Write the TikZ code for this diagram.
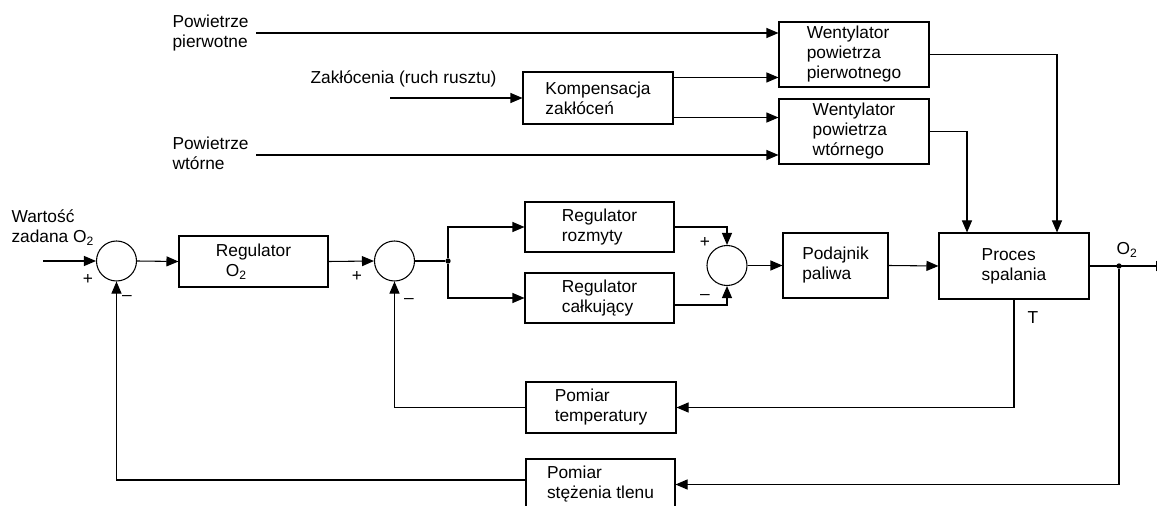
\documentclass[tikz,border=0pt]{standalone}
\usepackage{fontspec}
\setmainfont{Liberation Sans}
\usetikzlibrary{arrows.meta,calc}
\begin{document}
\begin{tikzpicture}[x=0.75pt,y=-0.75pt,
  font=\fontsize{13pt}{15pt}\selectfont,
  line width=0.8pt,
  >={Triangle[length=9pt,width=7.5pt]},
  blk/.style={draw,rectangle,align=left,inner sep=0pt},
  sumnode/.style={draw,circle,minimum size=30pt,inner sep=0pt},
  lbl/.style={inner sep=0pt,align=left},
  dot/.style={circle,fill,inner sep=0pt,minimum size=4pt}]
\fill[white] (0,0) rectangle (1157,506);
\clip (0,0) rectangle (1157,506);

% blocks
\node[blk,minimum width=112.5pt,minimum height=48.75pt] (wp) at (854,54.5)
  {Wentylator\\powietrza\\pierwotnego};
\node[blk,minimum width=112.5pt,minimum height=48.75pt] (ww) at (854,131.5)
  {Wentylator\\powietrza\\wtórnego};
\node[blk,minimum width=112.5pt,minimum height=39pt] (komp) at (598,98)
  {Kompensacja\\zakłóceń};
\node[blk,minimum width=111.75pt,minimum height=38.25pt] (regO) at (253.5,261.5)
  {Regulator\\\hspace*{7.5pt}O\textsubscript{2}};
\node[blk,minimum width=111.75pt,minimum height=37.5pt] (roz) at (599.5,227)
  {Regulator\\rozmyty};
\node[blk,minimum width=111.75pt,minimum height=37.5pt] (calk) at (599.5,298)
  {Regulator\\całkujący};
\node[blk,minimum width=78.75pt,minimum height=48.75pt] (pod) at (835.5,265.5)
  {Podajnik\\paliwa};
\node[blk,minimum width=112.5pt,minimum height=49.5pt] (proc) at (1014,266)
  {Proces\\spalania};
\node[blk,minimum width=112.5pt,minimum height=38.25pt] (ptemp) at (601,407.5)
  {Pomiar\\temperatury};
\node[blk,minimum width=111.75pt,minimum height=38.25pt] (ptlen) at (600.5,484.5)
  {Pomiar\\stężenia tlenu};

% summing junctions
\node[sumnode] (s1) at (116.5,261) {};
\node[sumnode] (s2) at (394.5,261) {};
\node[sumnode] (s3) at (727,265.5) {};

% free ends and branch points
\coordinate (in) at (43,261);
\coordinate (pp) at (256,33);
\coordinate (pw) at (256,155);
\coordinate (zk) at (390,98);
\coordinate (out) at (1168,266);
\node[dot] (j1) at (448,261) {};
\node[dot] (j2) at (1119,266) {};
\coordinate (k1) at ($(komp.north east)+(0,6)$);
\coordinate (k2) at ($(komp.south east)+(0,-7)$);
\coordinate (fa) at ($(proc.north)+(43,0)$);
\coordinate (fb) at ($(proc.north)+(-47,0)$);
\coordinate (cl) at ($(calk.east)+(0,7)$);
\coordinate (pl) at ($(ptlen.west)+(0,-4.5)$);

% labels
\node[lbl,anchor=west] (lwz) at (11,228) {Wartość\\zadana O\textsubscript{2}};
\node[lbl,anchor=west] (lpp) at (172,33) {Powietrze\\pierwotne};
\node[lbl,anchor=west] (lpw) at (172,153.5) {Powietrze\\wtórne};
\node[lbl,anchor=west] (lzk) at (310,79) {Zakłócenia (ruch rusztu)};
\node[lbl] (p1) at (88,279) {+};
\node[lbl] (m1) at (127,298) {–};
\node[lbl] (p2) at (357,276) {+};
\node[lbl] (m2) at (409,301) {–};
\node[lbl] (p3) at (705,242) {+};
\node[lbl] (m3) at (705,297) {–};
\node[lbl] (lo2) at (1127,250) {O\textsubscript{2}};
\node[lbl] (lt) at (1033,318) {T};

% air supply and disturbance paths
\draw[->] (pp) -- (pp -| wp.west);
\draw[->] (pw) -- (pw -| ww.west);
\draw[->] (zk) -- (komp.west);
\draw[->] (k1) -- (k1 -| wp.west);
\draw[->] (k2) -- (k2 -| ww.west);
\draw[->] (wp.east) -| (fa);
\draw[->] (ww.east) -| (fb);

% main forward path
\draw[->] (in) -- (s1.west);
\draw[->] (s1.east) -- (regO.west);
\draw[->] (regO.east) -- (s2.west);
\draw (s2.east) -- (j1);
\draw[->] (j1) |- (roz.west);
\draw[->] (j1) |- (calk.west);
\draw[->] (roz.east) -| (s3.north);
\draw[->] (cl) -| (s3.south);
\draw[->] (s3.east) -- (pod.west);
\draw[->] (pod.east) -- (proc.west);
\draw[->] (proc.east) -- (out);

% feedback paths
\draw[->] (proc.south) |- (ptemp.east);
\draw[->] (ptemp.west) -| (s2.south);
\draw[->] (j2) |- (ptlen.east);
\draw[->] (pl) -| (s1.south);
\end{tikzpicture}
\end{document}
